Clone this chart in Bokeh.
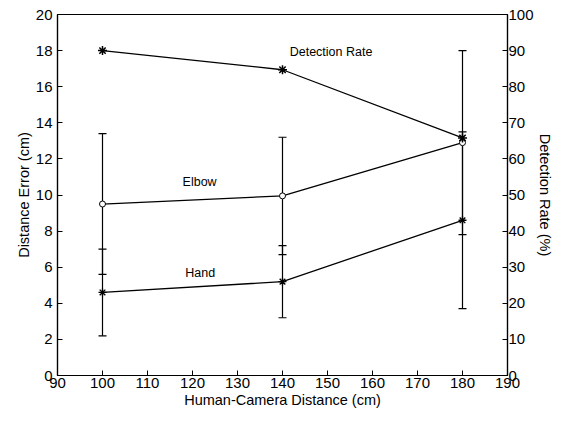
from bokeh.plotting import figure
from bokeh.models import LinearAxis, Range1d, ColumnDataSource, Whisker, TeeHead, FixedTicker, Label
from bokeh.embed import file_html
from bokeh.resources import INLINE

distance = [100, 140, 180]
detection_rate = [90.0, 84.7, 65.8]
elbow = [9.5, 9.95, 12.9]
elbow_lower = [5.6, 6.7, 7.8]
elbow_upper = [13.4, 13.2, 18.0]
hand = [4.6, 5.2, 8.6]
hand_lower = [2.2, 3.2, 3.7]
hand_upper = [7.0, 7.2, 13.5]
x_ticks = list(range(90, 191, 10))
y_ticks = list(range(0, 21, 2))
rate_ticks = list(range(0, 101, 10))

FONT = "Liberation Sans"

p = figure(width=555, height=410, output_backend="svg", toolbar_location=None,
           x_range=Range1d(90, 190), y_range=Range1d(0, 20),
           min_border_left=57, min_border_right=36, min_border_top=14, min_border_bottom=34)
p.extra_y_ranges = {"rate": Range1d(0, 100)}
p.xgrid.visible = False
p.ygrid.visible = False
p.outline_line_color = "black"
p.outline_line_width = 1.2

def style(ax):
    ax.major_tick_in = 5
    ax.major_tick_out = 0
    ax.minor_tick_line_color = None
    ax.axis_line_color = "black"
    ax.axis_line_width = 1.2
    ax.major_tick_line_color = "black"
    ax.major_label_text_font = FONT
    ax.major_label_text_font_size = "15px"
    ax.major_label_text_color = "black"
    ax.axis_label_text_font = FONT
    ax.axis_label_text_font_size = "14.5px"
    ax.axis_label_text_font_style = "normal"
    ax.axis_label_text_color = "black"
    ax.major_label_standoff = 2
    ax.axis_label_standoff = 1

p.xaxis.ticker = FixedTicker(ticks=x_ticks)
p.yaxis.ticker = FixedTicker(ticks=y_ticks)
p.xaxis.axis_label = "Human-Camera Distance (cm)"
p.yaxis.axis_label = "Distance Error (cm)"
style(p.xaxis[0])
style(p.yaxis[0])
p.yaxis.major_label_standoff = 5

ra = LinearAxis(y_range_name="rate", axis_label="Detection Rate (%)", ticker=FixedTicker(ticks=rate_ticks))
style(ra)
ra.major_label_standoff = 1
ra.axis_label_standoff = 0
p.add_layout(ra, "right")

# error bars
esrc = ColumnDataSource(dict(x=distance, lo=elbow_lower, hi=elbow_upper))
hsrc = ColumnDataSource(dict(x=distance, lo=hand_lower, hi=hand_upper))
for s in (esrc, hsrc):
    w = Whisker(source=s, base="x", lower="lo", upper="hi", line_color="black", line_width=1.2,
                upper_head=TeeHead(size=8, line_color="black", line_width=1.2),
                lower_head=TeeHead(size=8, line_color="black", line_width=1.2))
    p.add_layout(w)

p.line(distance, elbow, line_color="black", line_width=1.3)
p.scatter(distance, elbow, marker="circle", size=6, fill_color="white", line_color="black")
p.line(distance, hand, line_color="black", line_width=1.3)
p.scatter(distance, hand, marker="asterisk", size=8, line_color="black", line_width=1.3)
p.line(distance, detection_rate, y_range_name="rate", line_color="black", line_width=1.3)
p.scatter(distance, detection_rate, y_range_name="rate", marker="asterisk", size=9,
          line_color="black", line_width=1.5)

for txt, xx, yy in [("Detection Rate", 141.6, 17.95), ("Elbow", 117.8, 10.7), ("Hand", 118.4, 5.7)]:
    p.add_layout(Label(x=xx, y=yy, text=txt, text_font=FONT, text_font_size="12.5px",
                       text_baseline="middle", text_align="left", text_color="black"))

open("out.html", "w").write(file_html(p, INLINE))
